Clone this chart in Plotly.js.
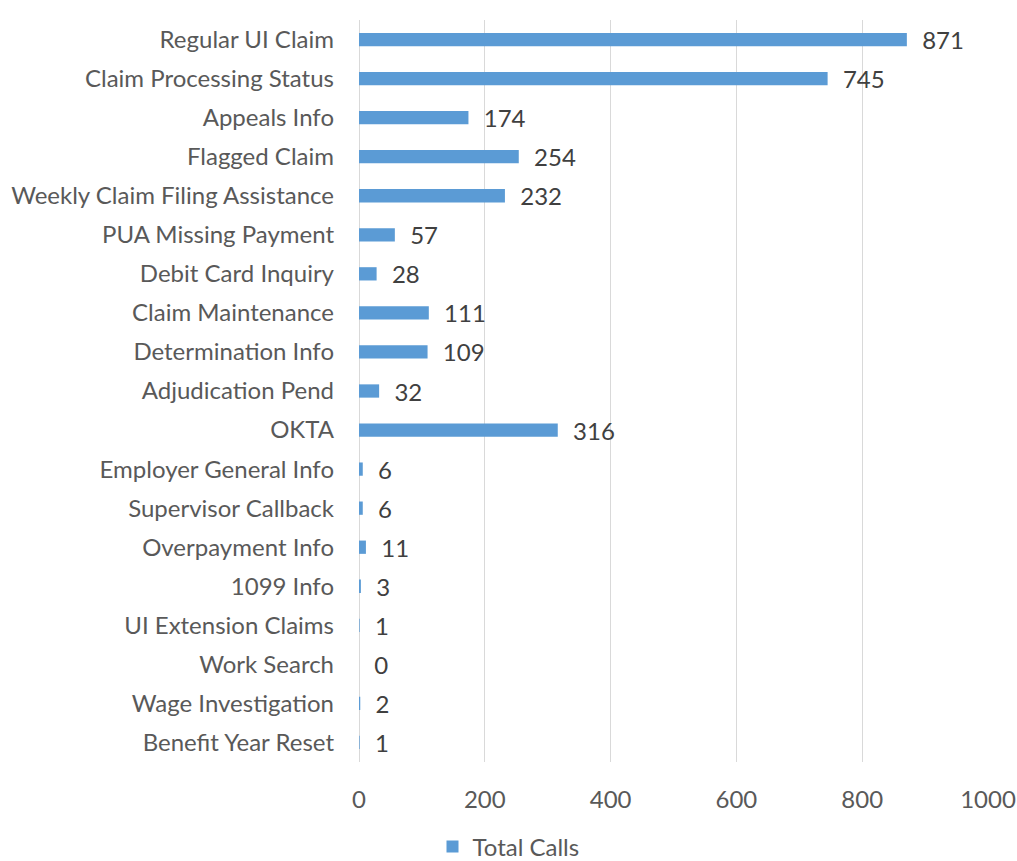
<!DOCTYPE html>
<html>
<head>
<meta charset="utf-8">
<script src="https://cdn.plot.ly/plotly-3.0.1.min.js"></script>
<style>html,body{margin:0;padding:0;background:#fff;}#chart{width:1017px;height:861px;}</style>
</head>
<body>
<div id="chart"></div>
<script>
const categories = [
  "Regular UI Claim", "Claim Processing Status", "Appeals Info", "Flagged Claim",
  "Weekly Claim Filing Assistance", "PUA Missing Payment", "Debit Card Inquiry",
  "Claim Maintenance", "Determination Info", "Adjudication Pend", "OKTA",
  "Employer General Info", "Supervisor Callback", "Overpayment Info", "1099 Info",
  "UI Extension Claims", "Work Search", "Wage Investigation", "Benefit Year Reset"
];
const totalCalls = [871, 745, 174, 254, 232, 57, 28, 111, 109, 32, 316, 6, 6, 11, 3, 1, 0, 2, 1];
const xTicks = [0, 200, 400, 600, 800, 1000];
const seriesName = "Total Calls";

const FONT = "Lato, 'Open Sans', sans-serif";
const FS = 24;

const trace = {
  type: "bar",
  orientation: "h",
  name: seriesName,
  y: categories,
  x: totalCalls,
  marker: {color: "#5B9BD5"},
  text: totalCalls.map(v => "\u00a0\u00a0" + v),
  textposition: "outside",
  constraintext: "none",
  cliponaxis: false,
  textfont: {family: FONT, size: FS, color: "#404040"},
  hoverinfo: "x+y"
};

const layout = {
  width: 1017,
  height: 861,
  margin: {l: 359, r: 29, t: 20, b: 99},
  paper_bgcolor: "#ffffff",
  plot_bgcolor: "#ffffff",
  font: {family: FONT, size: FS, color: "#595959"},
  bargap: 0.66,
  showlegend: true,
  legend: {
    orientation: "h",
    xref: "container", yref: "container",
    x: 0.500, xanchor: "center",
    y: 0.0163, yanchor: "middle",
    font: {family: FONT, size: FS, color: "#595959"},
    itemwidth: 30
  },
  xaxis: {
    range: [0, 1000],
    tickvals: xTicks,
    ticktext: xTicks.map(String),
    showgrid: true,
    gridcolor: "#d9d9d9",
    gridwidth: 1,
    zeroline: true,
    zerolinecolor: "#d9d9d9",
    showline: false,
    ticks: "",
    ticklabelstandoff: 21,
    automargin: false,
    tickfont: {family: FONT, size: FS, color: "#595959"},
    fixedrange: true
  },
  yaxis: {
    autorange: "reversed",
    type: "category",
    showgrid: false,
    zeroline: false,
    showline: false,
    ticks: "",
    ticklabelstandoff: 24,
    automargin: false,
    tickfont: {family: FONT, size: FS, color: "#595959"},
    fixedrange: true
  }
};

Plotly.newPlot("chart", [trace], layout, {displayModeBar: false, staticPlot: true});
</script>
</body>
</html>
